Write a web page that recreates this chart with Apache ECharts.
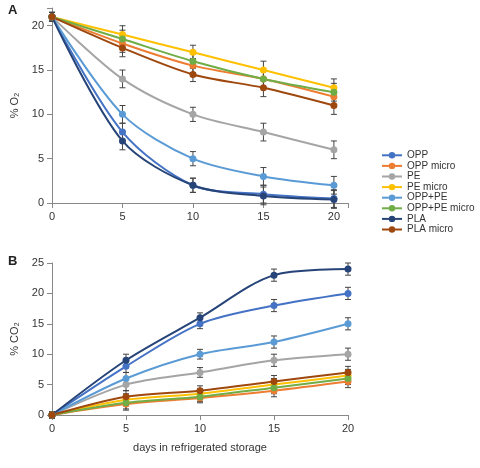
<!DOCTYPE html><html><head><meta charset="utf-8"><script src="https://cdn.jsdelivr.net/npm/echarts@6/dist/echarts.min.js"></script></head><body style="margin:0"><div id="c" style="width:480px;height:468px"></div><script>
const days=[0,5,10,15,20];
const names=['OPP','OPP micro','PE','PE micro','OPP+PE','OPP+PE micro','PLA','PLA micro'];
const colors=['#4472C4','#ED7D31','#A5A5A5','#FFC000','#5B9BD5','#70AD47','#264478','#9E480E'];
const o2=[[21,8,2,1,0.5],[21,18,15.5,14,12],[21,14,10,8,6],[21,19,17,15,13],[21,10,5,3,2],[21,18.5,16,14,12.5],[21,7,2,0.8,0.4],[21,17.5,14.5,13,11]];
const co2=[[0,8,15,18,20],[0,1.8,2.8,4,5.5],[0,5,7,9,10],[0,2.5,3.5,5,6.5],[0,6,10,12,15],[0,2,3,4.5,6],[0,9,16,23,24],[0,3,4,5.5,7]];
const err=[0.5,1,0.8,1,1];
const ax={axisLine:{lineStyle:{color:'#888'}},axisTick:{show:true,lineStyle:{color:'#888'}},splitLine:{show:false},axisLabel:{color:'#333',fontSize:11,fontFamily:'Liberation Sans',formatter:v=>v%5===0?v:''}};
const series=[];
function eb(data,xi,yi){return {type:'custom',xAxisIndex:xi,yAxisIndex:yi,silent:true,z:1,data:data,renderItem:(p,api)=>{const x=api.value(0),y=api.value(1),e=api.value(2);const a=api.coord([x,y+e]),b=api.coord([x,y-e]);const st={stroke:'#444',lineWidth:1};return {type:'group',children:[{type:'line',shape:{x1:a[0],y1:a[1],x2:b[0],y2:b[1]},style:st},{type:'line',shape:{x1:a[0]-3,y1:a[1],x2:a[0]+3,y2:a[1]},style:st},{type:'line',shape:{x1:b[0]-3,y1:b[1],x2:b[0]+3,y2:b[1]},style:st}]};}};}
names.forEach((n,i)=>{
 [[o2,0],[co2,1]].forEach(([arr,k])=>{
  const d=days.map((x,j)=>[x,arr[i][j]]);
  series.push({name:n,type:'line',xAxisIndex:k,yAxisIndex:k,smooth:0.3,data:d,symbol:'circle',symbolSize:7,lineStyle:{width:2,color:colors[i]},itemStyle:{color:colors[i]},z:3});
  series.push(eb(days.map((x,j)=>[x,arr[i][j],err[j]]),k,k));
 });
});
const ch=echarts.init(document.getElementById('c'));
ch.setOption({animation:false,color:colors,
grid:[{left:52,right:132,top:8,bottom:265},{left:52,right:132,top:263,bottom:53}],
xAxis:[Object.assign({type:'value',gridIndex:0,min:0,max:21,interval:5},ax),Object.assign({type:'value',gridIndex:1,min:0,max:20,interval:5,name:'days in refrigerated storage',nameLocation:'middle',nameGap:27,nameTextStyle:{fontSize:11,color:'#333'}},ax)],
yAxis:[Object.assign({type:'value',gridIndex:0,min:0,max:22,interval:5,name:'% O₂',nameLocation:'middle',nameGap:28,nameTextStyle:{fontSize:11,color:'#333'}},ax),Object.assign({type:'value',gridIndex:1,min:0,max:25,interval:5,name:'% CO₂',nameLocation:'middle',nameGap:28,nameTextStyle:{fontSize:11,color:'#333'}},ax)],
legend:{data:names,orient:'vertical',left:376,top:145,itemGap:0,itemWidth:20,itemHeight:8,textStyle:{fontSize:10,color:'#333',lineHeight:10.6}},
graphic:[{type:'text',left:8,top:4,style:{text:'A',font:'bold 13px Liberation Sans',fill:'#222'}},{type:'text',left:8,top:255,style:{text:'B',font:'bold 13px Liberation Sans',fill:'#222'}}],
series:series});
</script></body></html>
